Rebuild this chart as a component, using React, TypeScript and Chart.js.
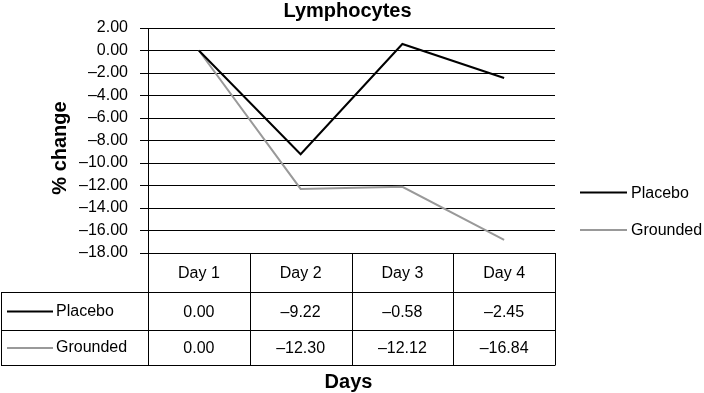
import React, { useEffect, useRef } from "react";
import { Chart, registerables } from "chart.js";

Chart.register(...registerables);

const days = ["Day 1", "Day 2", "Day 3", "Day 4"];
const seriesNames = ["Placebo", "Grounded"];
const placeboLine = [0, -9.22, 0.58, -2.45];
const groundedLine = [0, -12.3, -12.12, -16.84];
const placeboTable = [0, -9.22, -0.58, -2.45];
const groundedTable = [0, -12.3, -12.12, -16.84];
const seriesColors = ["#000000", "#999999"];
const yMin = -18;
const yMax = 2;
const yStep = 2;

const FONT = "'Liberation Sans', Arial, sans-serif";

const fmt = (v: number) => {
  const s = Math.abs(v).toFixed(2);
  return v < 0 && Math.abs(v) > 1e-9 ? "\u2013" + s : s;
};

const tablePlugin = {
  id: "tablePlugin",
  afterDraw(chart: any) {
    const ctx = chart.ctx as CanvasRenderingContext2D;
    const area = chart.chartArea;
    const xs = chart.scales.x;
    const n = days.length;
    const band = (area.right - area.left) / n;
    const rowTop = area.bottom;
    const rows = [rowTop, 292.5, 330.5, 365.5];
    const tables = [placeboTable, groundedTable];
    ctx.save();
    ctx.strokeStyle = "#000";
    ctx.lineWidth = 1;
    // horizontal lines
    ctx.beginPath();
    ctx.moveTo(1, rows[1]);
    ctx.lineTo(area.right, rows[1]);
    ctx.moveTo(1, rows[2]);
    ctx.lineTo(area.right, rows[2]);
    ctx.moveTo(1, rows[3]);
    ctx.lineTo(area.right, rows[3]);
    // vertical lines
    for (let i = 0; i <= n; i++) {
      const x = Math.round(area.left + band * i) + 0.5;
      ctx.moveTo(x, rowTop);
      ctx.lineTo(x, rows[3]);
    }
    ctx.moveTo(1.5, rows[1]);
    ctx.lineTo(1.5, rows[3]);
    ctx.stroke();

    ctx.fillStyle = "#000";
    ctx.font = `16px ${FONT}`;
    ctx.textAlign = "center";
    ctx.textBaseline = "middle";
    days.forEach((d, i) => {
      const cx = xs.getPixelForValue(i);
      ctx.fillText(d, cx, (rows[0] + rows[1]) / 2 + 1);
      tables.forEach((t, r) => {
        ctx.fillText(fmt(t[i]), cx, (rows[r + 1] + rows[r + 2]) / 2 + 1);
      });
    });

    // row legend keys
    seriesNames.forEach((name, r) => {
      const cy = (rows[r + 1] + rows[r + 2]) / 2;
      ctx.strokeStyle = seriesColors[r];
      ctx.lineWidth = 2;
      ctx.beginPath();
      ctx.moveTo(7, cy);
      ctx.lineTo(53, cy);
      ctx.stroke();
      ctx.textAlign = "left";
      ctx.fillText(name, 56, cy);
    });

    // right legend
    const legY = [192.5, 230];
    seriesNames.forEach((name, r) => {
      ctx.strokeStyle = seriesColors[r];
      ctx.lineWidth = 2;
      ctx.beginPath();
      ctx.moveTo(580, legY[r]);
      ctx.lineTo(627, legY[r]);
      ctx.stroke();
      ctx.textAlign = "left";
      ctx.fillText(name, 631, legY[r] + 1);
    });

    // titles
    const midX = (area.left + area.right) / 2;
    ctx.font = `bold 20px ${FONT}`;
    ctx.textAlign = "center";
    ctx.fillText("Lymphocytes", midX - 4, 11);
    ctx.fillText("Days", midX - 3, 382);
    ctx.translate(60, 148);
    ctx.rotate(-Math.PI / 2);
    ctx.fillText("% change", 0, 0);
    ctx.restore();
  },
};

export default function App() {
  const ref = useRef<HTMLCanvasElement>(null);
  useEffect(() => {
    const chart = new Chart(ref.current!, {
      type: "line",
      data: {
        labels: days,
        datasets: [
          {
            label: seriesNames[0],
            data: placeboLine,
            borderColor: seriesColors[0],
            borderWidth: 2,
            pointRadius: 0,
            tension: 0,
          },
          {
            label: seriesNames[1],
            data: groundedLine,
            borderColor: seriesColors[1],
            borderWidth: 2,
            pointRadius: 0,
            tension: 0,
          },
        ],
      },
      options: {
        responsive: false,
        animation: false,
        layout: { padding: { left: 0, right: 149, top: 28, bottom: 140 } },
        plugins: { legend: { display: false }, tooltip: { enabled: false }, title: { display: false } },
        scales: {
          x: { display: false, offset: true },
          y: {
            min: yMin,
            max: yMax,
            afterFit: (s: any) => {
              s.width = 148;
            },
            ticks: {
              stepSize: yStep,
              color: "#000",
              padding: 12,
              font: { family: FONT, size: 16 },
              callback: (v: any) => fmt(Number(v)),
            },
            grid: { color: "#000", lineWidth: 1, tickLength: 8, drawTicks: true },
            border: { display: true, color: "#000", width: 1 },
          },
        },
      },
      plugins: [tablePlugin],
    });
    return () => chart.destroy();
  }, []);
  return (
    <div style={{ position: "absolute", left: 0, top: 0, width: 704, height: 393, background: "#fff" }}>
      <canvas ref={ref} width={704} height={393} />
    </div>
  );
}
